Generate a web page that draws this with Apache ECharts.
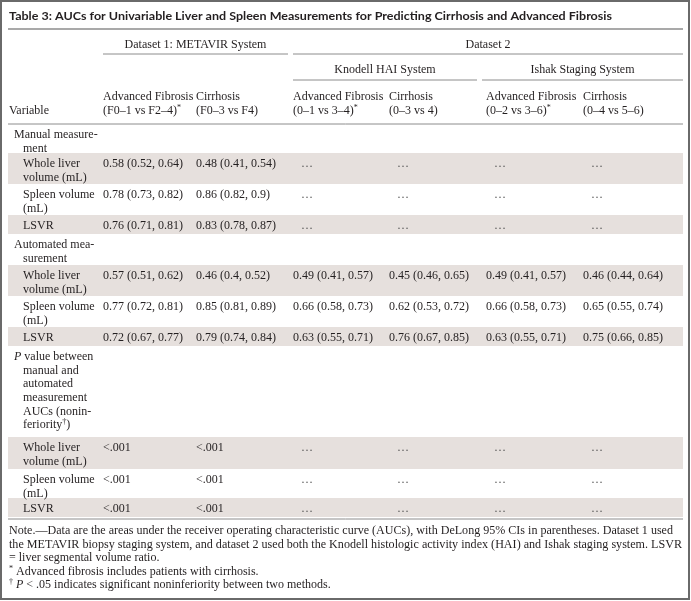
<!DOCTYPE html>
<html>
<head>
<meta charset="utf-8">
<title>Table 3</title>
<script src="https://cdn.jsdelivr.net/npm/echarts@6/dist/echarts.min.js"></script>
<style>
html, body { margin: 0; padding: 0; background: #fff; }
#chart { width: 691px; height: 601px; }
</style>
</head>
<body>
<div id="chart"></div>
<script>
// table content
var titleText = "Table 3: AUCs for Univariable Liver and Spleen Measurements for Predicting Cirrhosis and Advanced Fibrosis";
var datasetHeaders = ["Dataset 1: METAVIR System", "Dataset 2"];
var systemHeaders = ["Knodell HAI System", "Ishak Staging System"];
var columnHeaders = [
  ["Advanced Fibrosis", "(F0–1 vs F2–4){sup|*}"],
  ["Cirrhosis", "(F0–3 vs F4)"],
  ["Advanced Fibrosis", "(0–1 vs 3–4){sup|*}"],
  ["Cirrhosis", "(0–3 vs 4)"],
  ["Advanced Fibrosis", "(0–2 vs 3–6){sup|*}"],
  ["Cirrhosis", "(0–4 vs 5–6)"]
];
var variableHeader = "Variable";

var manualLabel = ["Manual measure-", "ment"];
var automatedLabel = ["Automated mea-", "surement"];
var pValueLabel = ["{i|P} value between", "manual and", "automated", "measurement", "AUCs (nonin-", "feriority{sup|†})"];
var wholeLiverLabel = ["Whole liver", "volume (mL)"];
var spleenLabel = ["Spleen volume", "(mL)"];
var lsvrLabel = ["LSVR"];

var manualWholeLiver = ["0.58 (0.52, 0.64)", "0.48 (0.41, 0.54)", "…", "…", "…", "…"];
var manualSpleen = ["0.78 (0.73, 0.82)", "0.86 (0.82, 0.9)", "…", "…", "…", "…"];
var manualLsvr = ["0.76 (0.71, 0.81)", "0.83 (0.78, 0.87)", "…", "…", "…", "…"];
var autoWholeLiver = ["0.57 (0.51, 0.62)", "0.46 (0.4, 0.52)", "0.49 (0.41, 0.57)", "0.45 (0.46, 0.65)", "0.49 (0.41, 0.57)", "0.46 (0.44, 0.64)"];
var autoSpleen = ["0.77 (0.72, 0.81)", "0.85 (0.81, 0.89)", "0.66 (0.58, 0.73)", "0.62 (0.53, 0.72)", "0.66 (0.58, 0.73)", "0.65 (0.55, 0.74)"];
var autoLsvr = ["0.72 (0.67, 0.77)", "0.79 (0.74, 0.84)", "0.63 (0.55, 0.71)", "0.76 (0.67, 0.85)", "0.63 (0.55, 0.71)", "0.75 (0.66, 0.85)"];
var pWholeLiver = ["<.001", "<.001", "…", "…", "…", "…"];
var pSpleen = ["<.001", "<.001", "…", "…", "…", "…"];
var pLsvr = ["<.001", "<.001", "…", "…", "…", "…"];

var noteLines = [
  "Note.—Data are the areas under the receiver operating characteristic curve (AUCs), with DeLong 95% CIs in parentheses. Dataset 1 used",
  "the METAVIR biopsy staging system, and dataset 2 used both the Knodell histologic activity index (HAI) and Ishak staging system. LSVR",
  "= liver segmental volume ratio.",
  "{sup|*} Advanced fibrosis includes patients with cirrhosis.",
  "{sup|†} {i|P} < .05 indicates significant noninferiority between two methods."
];

// layout
var SERIF = "'Liberation Serif', 'DejaVu Serif', serif";
var INK = "#231f20";
var RULE = "#8c8c8c";
var SHADE = "#e6e0dd";
var L = 8, R = 683;
var colX = [103, 196, 293, 389, 486, 583];
var lineH = 13.6;

var rows = [
  { top: 124, label: manualLabel, group: true },
  { top: 153, label: wholeLiverLabel, values: manualWholeLiver, shade: true },
  { top: 184, label: spleenLabel, values: manualSpleen },
  { top: 215, label: lsvrLabel, values: manualLsvr, shade: true },
  { top: 234, label: automatedLabel, group: true },
  { top: 265, label: wholeLiverLabel, values: autoWholeLiver, shade: true },
  { top: 296, label: spleenLabel, values: autoSpleen },
  { top: 327, label: lsvrLabel, values: autoLsvr, shade: true },
  { top: 346, label: pValueLabel, group: true },
  { top: 437, label: wholeLiverLabel, values: pWholeLiver, shade: true },
  { top: 469, label: spleenLabel, values: pSpleen },
  { top: 498, label: lsvrLabel, values: pLsvr, shade: true }
];
var tableBottom = 517;

var rich = {
  sup: { fontSize: 8, fontFamily: SERIF, fill: INK, verticalAlign: "top", lineHeight: 9 },
  i: { fontSize: 12, fontFamily: SERIF, fill: INK, fontStyle: "italic", lineHeight: 14 }
};

var ctx = document.createElement("canvas").getContext("2d");
function measure(font, s) { ctx.font = font; return ctx.measureText(s).width; }

function txt(x, y, s, o) {
  o = o || {};
  return {
    type: "text", x: x, y: y, silent: true,
    scaleX: o.scaleX || 1,
    style: {
      text: s,
      fontSize: o.size || 12,
      fontFamily: o.family || SERIF,
      fontWeight: o.weight || "normal",
      fill: o.fill || INK,
      align: o.align || "left",
      verticalAlign: "middle",
      textAlign: o.align || "left",
      textVerticalAlign: "middle",
      lineHeight: 14,
      rich: rich
    }
  };
}
function hline(x1, x2, y, w, c) {
  return { type: "line", silent: true, shape: { x1: x1, y1: y, x2: x2, y2: y },
    style: { stroke: c || RULE, lineWidth: w || 1 } };
}

var els = [];

// frame
els.push({ type: "rect", silent: true, shape: { x: 1, y: 1, width: 688, height: 598 },
  style: { fill: "none", stroke: "#6a6a6a", lineWidth: 2 } });

// title
var titleFont = "bold 12px Lato";
var titleScale = (612 - 9) / measure(titleFont, titleText);
els.push(txt(9, 16, titleText, { family: "Lato", weight: "bold", size: 12, scaleX: titleScale }));
els.push(hline(L, R, 29, 2, "#a9a9a9"));

// row shading first so text sits on top
rows.forEach(function (r, k) {
  var bottom = k + 1 < rows.length ? rows[k + 1].top : tableBottom;
  if (r.shade) {
    els.push({ type: "rect", silent: true, shape: { x: L, y: r.top, width: R - L, height: bottom - r.top },
      style: { fill: SHADE } });
  }
});

// header
els.push(txt((colX[0] + 288) / 2, 45, datasetHeaders[0], { align: "center" }));
els.push(hline(colX[0], 288, 54));
els.push(txt((colX[2] + R) / 2, 45, datasetHeaders[1], { align: "center" }));
els.push(hline(colX[2], R, 54));
els.push(txt((colX[2] + 477) / 2, 70, systemHeaders[0], { align: "center" }));
els.push(hline(colX[2], 477, 80));
els.push(txt((482 + R) / 2, 70, systemHeaders[1], { align: "center" }));
els.push(hline(482, R, 80));
columnHeaders.forEach(function (h, c) {
  els.push(txt(colX[c], 97, h[0]));
  els.push(txt(colX[c], 111, h[1]));
});
els.push(txt(9, 111, variableHeader));
els.push(hline(L, R, 124));

// body
rows.forEach(function (r) {
  r.label.forEach(function (s, j) {
    var x = r.group ? (j === 0 ? 14 : 23) : 23;
    els.push(txt(x, r.top + 11 + j * lineH, s));
  });
  if (r.values) {
    r.values.forEach(function (v, c) {
      var dots = v === "…";
      els.push(txt(colX[c] + (dots ? 8 : 0), r.top + 11, v, dots ? { fill: "#555" } : {}));
    });
  }
});
els.push(hline(L, R, 519));

// notes
var noteTargets = [673, 682];
noteLines.forEach(function (s, j) {
  var o = {};
  if (j < 2) o.scaleX = (noteTargets[j] - 9) / measure("12px " + SERIF, s);
  els.push(txt(9, 531 + j * 13.5, s, o));
});

var chart = echarts.init(document.getElementById("chart"), null, { renderer: "canvas" });
chart.setOption({
  animation: false,
  graphic: { elements: els }
});
</script>
</body>
</html>
